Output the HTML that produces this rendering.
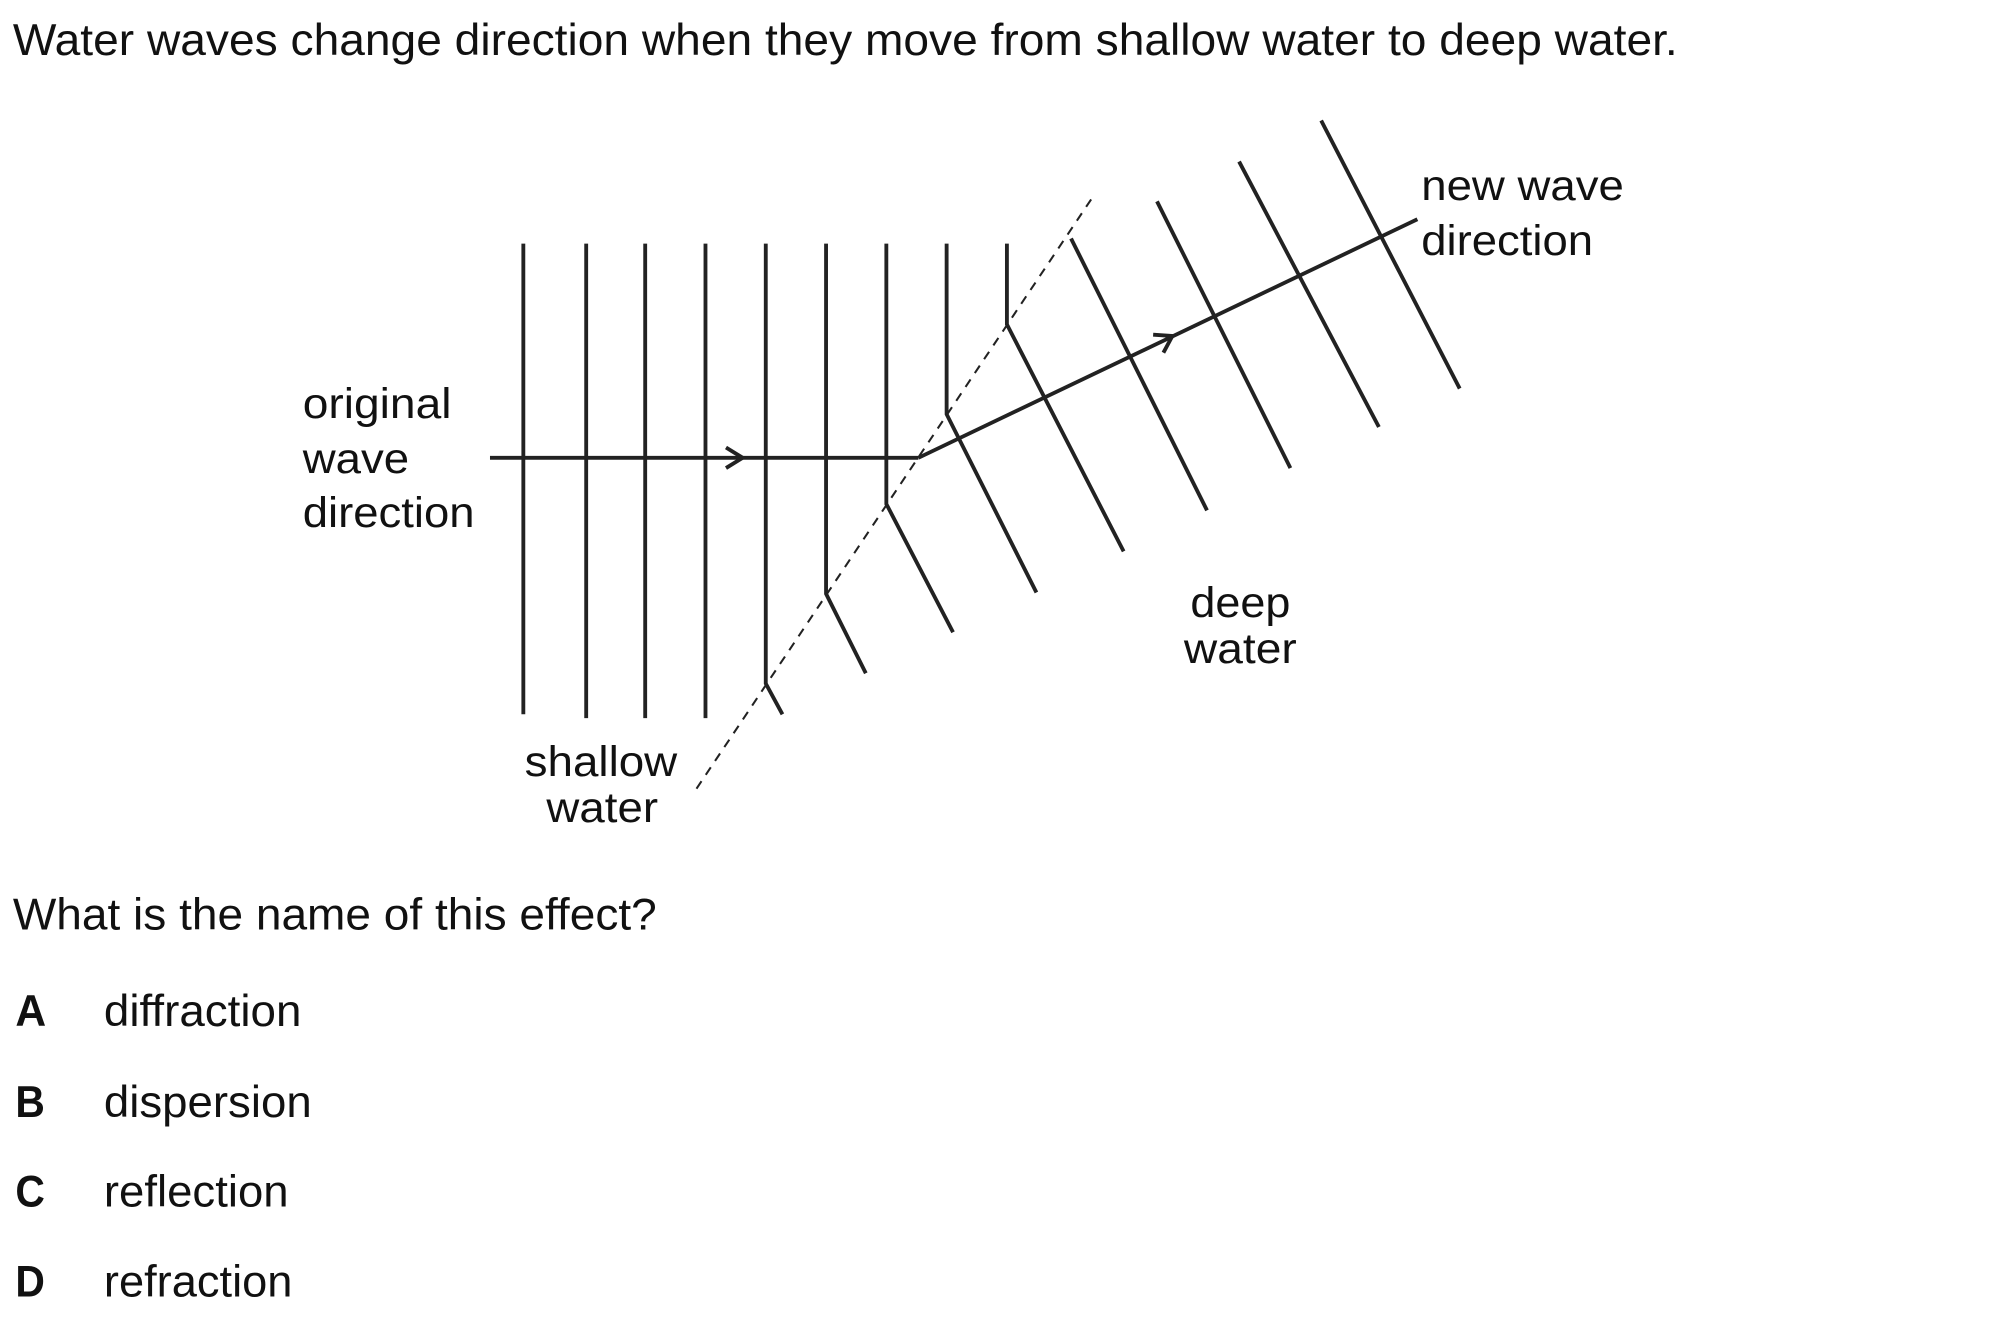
<!DOCTYPE html>
<html><head><meta charset="utf-8"><style>
html,body{margin:0;padding:0;background:#fff;}
svg{display:block;}
text{font-family:"Liberation Sans",Arial,sans-serif;fill:#111;}
</style></head><body>
<svg width="2001" height="1317" viewBox="0 0 1560 1027" preserveAspectRatio="none" xmlns="http://www.w3.org/2000/svg">
<text x="10" y="43" font-size="35" textLength="1298" lengthAdjust="spacingAndGlyphs">Water waves change direction when they move from shallow water to deep water.</text>

<g stroke="#222" stroke-width="3" fill="none" stroke-linecap="butt">
<line x1="408" y1="190" x2="408" y2="557"/>
<line x1="457" y1="190" x2="457" y2="560"/>
<line x1="503" y1="190" x2="503" y2="560"/>
<line x1="550" y1="190" x2="550" y2="560"/>
<polyline points="597,190 597,533 610,557"/>
<polyline points="644,190 644,463 675,525"/>
<polyline points="691,190 691,393 743,493"/>
<polyline points="738,190 738,323 808,462"/>
<polyline points="785,190 785,253 876,430"/>
<line x1="835" y1="186" x2="941" y2="398"/>
<line x1="902" y1="157" x2="1006" y2="365"/>
<line x1="966" y1="126" x2="1075" y2="333"/>
<line x1="1030" y1="94" x2="1138" y2="303"/>
<line x1="382" y1="357" x2="716" y2="357"/>
<polyline points="566,349 579,357 566,365"/>
<line x1="716" y1="357" x2="1105" y2="171"/>
<polyline points="899,261 914,262 907,275"/>
</g>
<line x1="543" y1="615" x2="853" y2="152" stroke="#222" stroke-width="1.6" stroke-dasharray="7,6"/>

<g font-size="33">
<text x="236" y="326" textLength="116" lengthAdjust="spacingAndGlyphs">original</text>
<text x="236" y="369" textLength="83" lengthAdjust="spacingAndGlyphs">wave</text>
<text x="236" y="411" textLength="134" lengthAdjust="spacingAndGlyphs">direction</text>
<text x="1108" y="156" textLength="158" lengthAdjust="spacingAndGlyphs">new wave</text>
<text x="1108" y="199" textLength="134" lengthAdjust="spacingAndGlyphs">direction</text>
<text x="928" y="481" textLength="78" lengthAdjust="spacingAndGlyphs">deep</text>
<text x="923" y="517" textLength="88" lengthAdjust="spacingAndGlyphs">water</text>
<text x="409" y="605" textLength="119" lengthAdjust="spacingAndGlyphs">shallow</text>
<text x="426" y="641" textLength="87" lengthAdjust="spacingAndGlyphs">water</text>
</g>

<g font-size="35">
<text x="10" y="725" textLength="502" lengthAdjust="spacingAndGlyphs">What is the name of this effect?</text>
<text x="12" y="800" font-weight="bold" textLength="24" lengthAdjust="spacingAndGlyphs">A</text>
<text x="81" y="800" textLength="154" lengthAdjust="spacingAndGlyphs">diffraction</text>
<text x="12" y="871" font-weight="bold" textLength="23" lengthAdjust="spacingAndGlyphs">B</text>
<text x="81" y="871" textLength="162" lengthAdjust="spacingAndGlyphs">dispersion</text>
<text x="12" y="941" font-weight="bold" textLength="23" lengthAdjust="spacingAndGlyphs">C</text>
<text x="81" y="941" textLength="144" lengthAdjust="spacingAndGlyphs">reflection</text>
<text x="12" y="1011" font-weight="bold" textLength="23" lengthAdjust="spacingAndGlyphs">D</text>
<text x="81" y="1011" textLength="147" lengthAdjust="spacingAndGlyphs">refraction</text>
</g>
</svg>
</body></html>
